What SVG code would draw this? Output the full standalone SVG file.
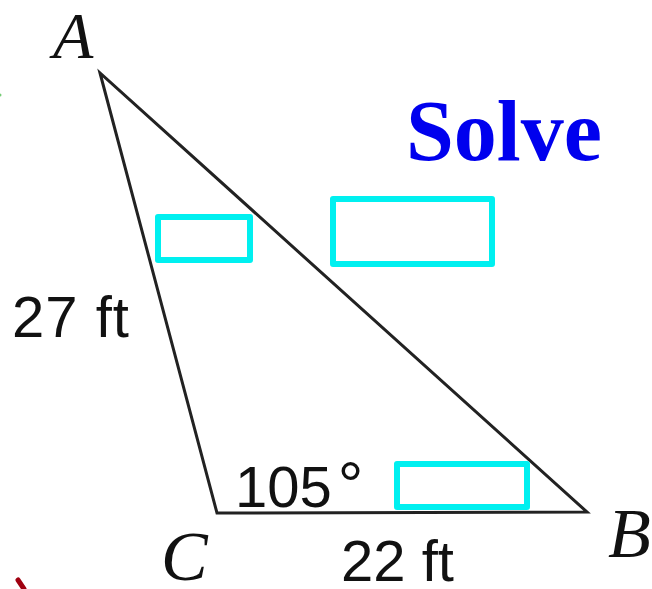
<svg xmlns="http://www.w3.org/2000/svg" width="652" height="589" viewBox="0 0 652 589">
<style>
.box{fill:none;stroke:#00f0f0;stroke-width:6;stroke-linejoin:round}
.lbl{font-family:"Liberation Sans",Arial,sans-serif;font-size:58px;fill:#111}
.vtx{font-family:"Liberation Serif","Times New Roman",serif;font-style:italic;fill:#111}
</style>
<rect width="652" height="589" fill="#fff"/>
<g id="connectors">
<polygon points="100,73 217,513 587,512" fill="none" stroke="#222" stroke-width="3" stroke-linejoin="miter"/>
</g>
<g id="A"><text class="vtx" x="53" y="58" font-size="66">A</text></g>
<g id="B"><text class="vtx" x="608" y="557" font-size="70">B</text></g>
<g id="C"><text class="vtx" x="161" y="580" font-size="70">C</text></g>
<g id="solve"><text x="406" y="160" font-family="Liberation Serif,'Times New Roman',serif" font-weight="bold" font-size="86" fill="#0000ee">Solve</text></g>
<g id="side-ac"><text class="lbl" x="12" y="337" letter-spacing="1">27 ft</text></g>
<g id="side-cb"><text class="lbl" x="341" y="581">22 ft</text></g>
<g id="angle-c"><text class="lbl" x="235" y="507">105<tspan dx="6" font-size="64">°</tspan></text></g>
<g id="box-a"><rect class="box" x="158" y="217" width="92" height="43"/></g>
<g id="box-ab"><rect class="box" x="333" y="199" width="159" height="65"/></g>
<g id="box-b"><rect class="box" x="397" y="464" width="130" height="43"/></g>
<g id="marks">
<line x1="18" y1="580" x2="24" y2="589" stroke="#a00010" stroke-width="5" stroke-linecap="round"/>
<circle cx="0" cy="95" r="1.5" fill="#7c7"/>
</g>
</svg>
